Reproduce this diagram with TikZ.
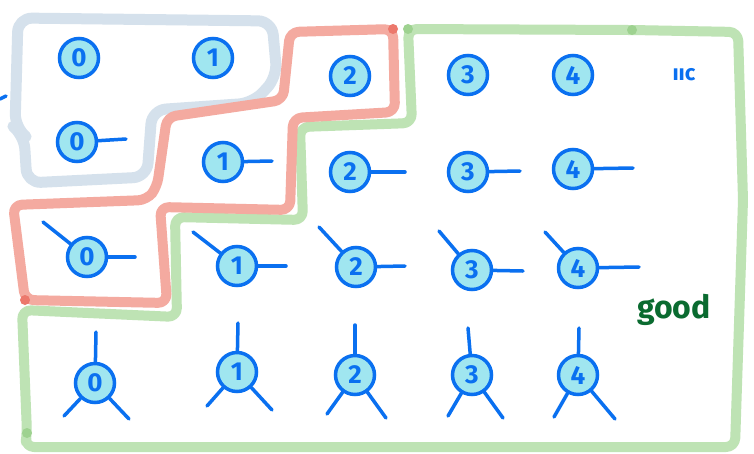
\documentclass[tikz,border=0pt]{standalone}
\usepackage{fontspec}
\setsansfont{Fira Sans}
\definecolor{nblue}{RGB}{10,112,240}
\definecolor{ncyan}{RGB}{160,230,240}
\definecolor{rgray}{RGB}{213,225,236}
\definecolor{rred}{RGB}{244,170,160}
\definecolor{rredd}{RGB}{236,120,108}
\definecolor{rgreen}{RGB}{190,227,180}
\definecolor{rgreend}{RGB}{158,210,144}
\definecolor{goodgreen}{RGB}{10,107,48}
\begin{document}
\begin{tikzpicture}[x=1pt,y=-1pt,
  nd/.style={circle, draw=nblue, fill=ncyan, line width=3.5pt, minimum size=39pt, inner sep=0pt,
    font=\fontsize{26}{26}\selectfont\sffamily\bfseries, text=nblue},
  stub/.style={draw=nblue, line width=3.5pt, line cap=round},
  region/.style={line width=10pt, rounded corners=9pt, line join=round, line cap=round}]
\useasboundingbox (0,0) rectangle (754,453);
\fill[white] (0,0) rectangle (754,453);

% regions
\draw[region, rgray, line width=11pt, rounded corners=14pt] (18,18) -- (272,21) -- (277,77) -- (253,103) -- (152,110)
  -- (147,177) -- (27,183) -- (24,135) -- (15,128) -- cycle;
\draw[region, rgreen] (408,29) -- (632,30) -- (738,32) -- (743,200) -- (735,447) -- (25,447)
  -- (27,433) -- (22,310) -- (177,317) -- (175,217) -- (303,220) -- (300,127) -- (412,123) -- cycle;
\draw[region, rred] (290,32) -- (393,29) -- (395,112) -- (293,118) -- (290,210) -- (160,207)
  -- (167,303) -- (25,300) -- (13,205) -- (147,200) -- (157,187) -- (167,117) -- (283,100) -- cycle;
\fill[rredd] (393,29) circle (5pt);
\fill[rredd] (25,300) circle (5pt);
\fill[rgreend] (408,29) circle (5pt);
\fill[rgreend] (632,30) circle (5pt);
\fill[rgreend] (27,433) circle (5pt);

% stray mark at left edge
\coordinate (m1) at (0,99);
\coordinate (m2) at (6,96);
\draw[stub] (m1) -- (m2);

% row 1
\node[nd] (r1c0) at (79,58) {0};
\node[nd] (r1c1) at (213,58) {1};
\node[nd] (r1c2) at (350,76) {2};
\node[nd] (r1c3) at (468,75) {3};
\node[nd] (r1c4) at (573,75) {4};
\node[text=nblue, font=\fontsize{22}{22}\selectfont\sffamily\bfseries] (dots) at (684,75) {ııc};

% row 2
\node[nd] (r2c0) at (77,142) {0};
\node[nd] (r2c1) at (223,162) {1};
\node[nd] (r2c2) at (350,172) {2};
\node[nd] (r2c3) at (468,172) {3};
\node[nd] (r2c4) at (573,169) {4};
\coordinate (e2c0) at (126,139);
\coordinate (e2c1) at (272,161);
\coordinate (e2c2) at (405,172);
\coordinate (e2c3) at (520,171);
\coordinate (e2c4) at (633,168);
\foreach \i in {0,...,4} { \draw[stub] (r2c\i) -- (e2c\i); }

% row 3
\node[nd] (r3c0) at (87,257) {0};
\node[nd] (r3c1) at (237,266) {1};
\node[nd] (r3c2) at (356,267) {2};
\node[nd] (r3c3) at (472,270) {3};
\node[nd] (r3c4) at (578,268) {4};
\coordinate (e3c0) at (135,257);
\coordinate (e3c1) at (286,266);
\coordinate (e3c2) at (405,266);
\coordinate (e3c3) at (523,271);
\coordinate (e3c4) at (639,267);
\coordinate (u3c0) at (43,222);
\coordinate (u3c1) at (193,232);
\coordinate (u3c2) at (319,227);
\coordinate (u3c3) at (439,231);
\coordinate (u3c4) at (545,232);
\foreach \i in {0,...,4} { \draw[stub] (r3c\i) -- (e3c\i); \draw[stub] (r3c\i) -- (u3c\i); }

% row 4
\node[nd] (r4c0) at (95,383) {0};
\node[nd] (r4c1) at (237,372) {1};
\node[nd] (r4c2) at (355,375) {2};
\node[nd] (r4c3) at (472,375) {3};
\node[nd] (r4c4) at (578,375) {4};
\coordinate (t4c0) at (96,332);
\coordinate (t4c1) at (238,323);
\coordinate (t4c2) at (355,325);
\coordinate (t4c3) at (468,328);
\coordinate (t4c4) at (579,328);
\coordinate (l4c0) at (64,416);
\coordinate (l4c1) at (207,406);
\coordinate (l4c2) at (327,414);
\coordinate (l4c3) at (448,416);
\coordinate (l4c4) at (554,417);
\coordinate (g4c0) at (129,419);
\coordinate (g4c1) at (272,410);
\coordinate (g4c2) at (386,418);
\coordinate (g4c3) at (503,418);
\coordinate (g4c4) at (615,419);
\foreach \i in {0,...,4} { \draw[stub] (r4c\i) -- (t4c\i); \draw[stub] (r4c\i) -- (l4c\i); \draw[stub] (r4c\i) -- (g4c\i); }

\node[text=goodgreen, font=\fontsize{32}{32}\selectfont\sffamily\bfseries] (good) at (674,310) {good};
\end{tikzpicture}
\end{document}
